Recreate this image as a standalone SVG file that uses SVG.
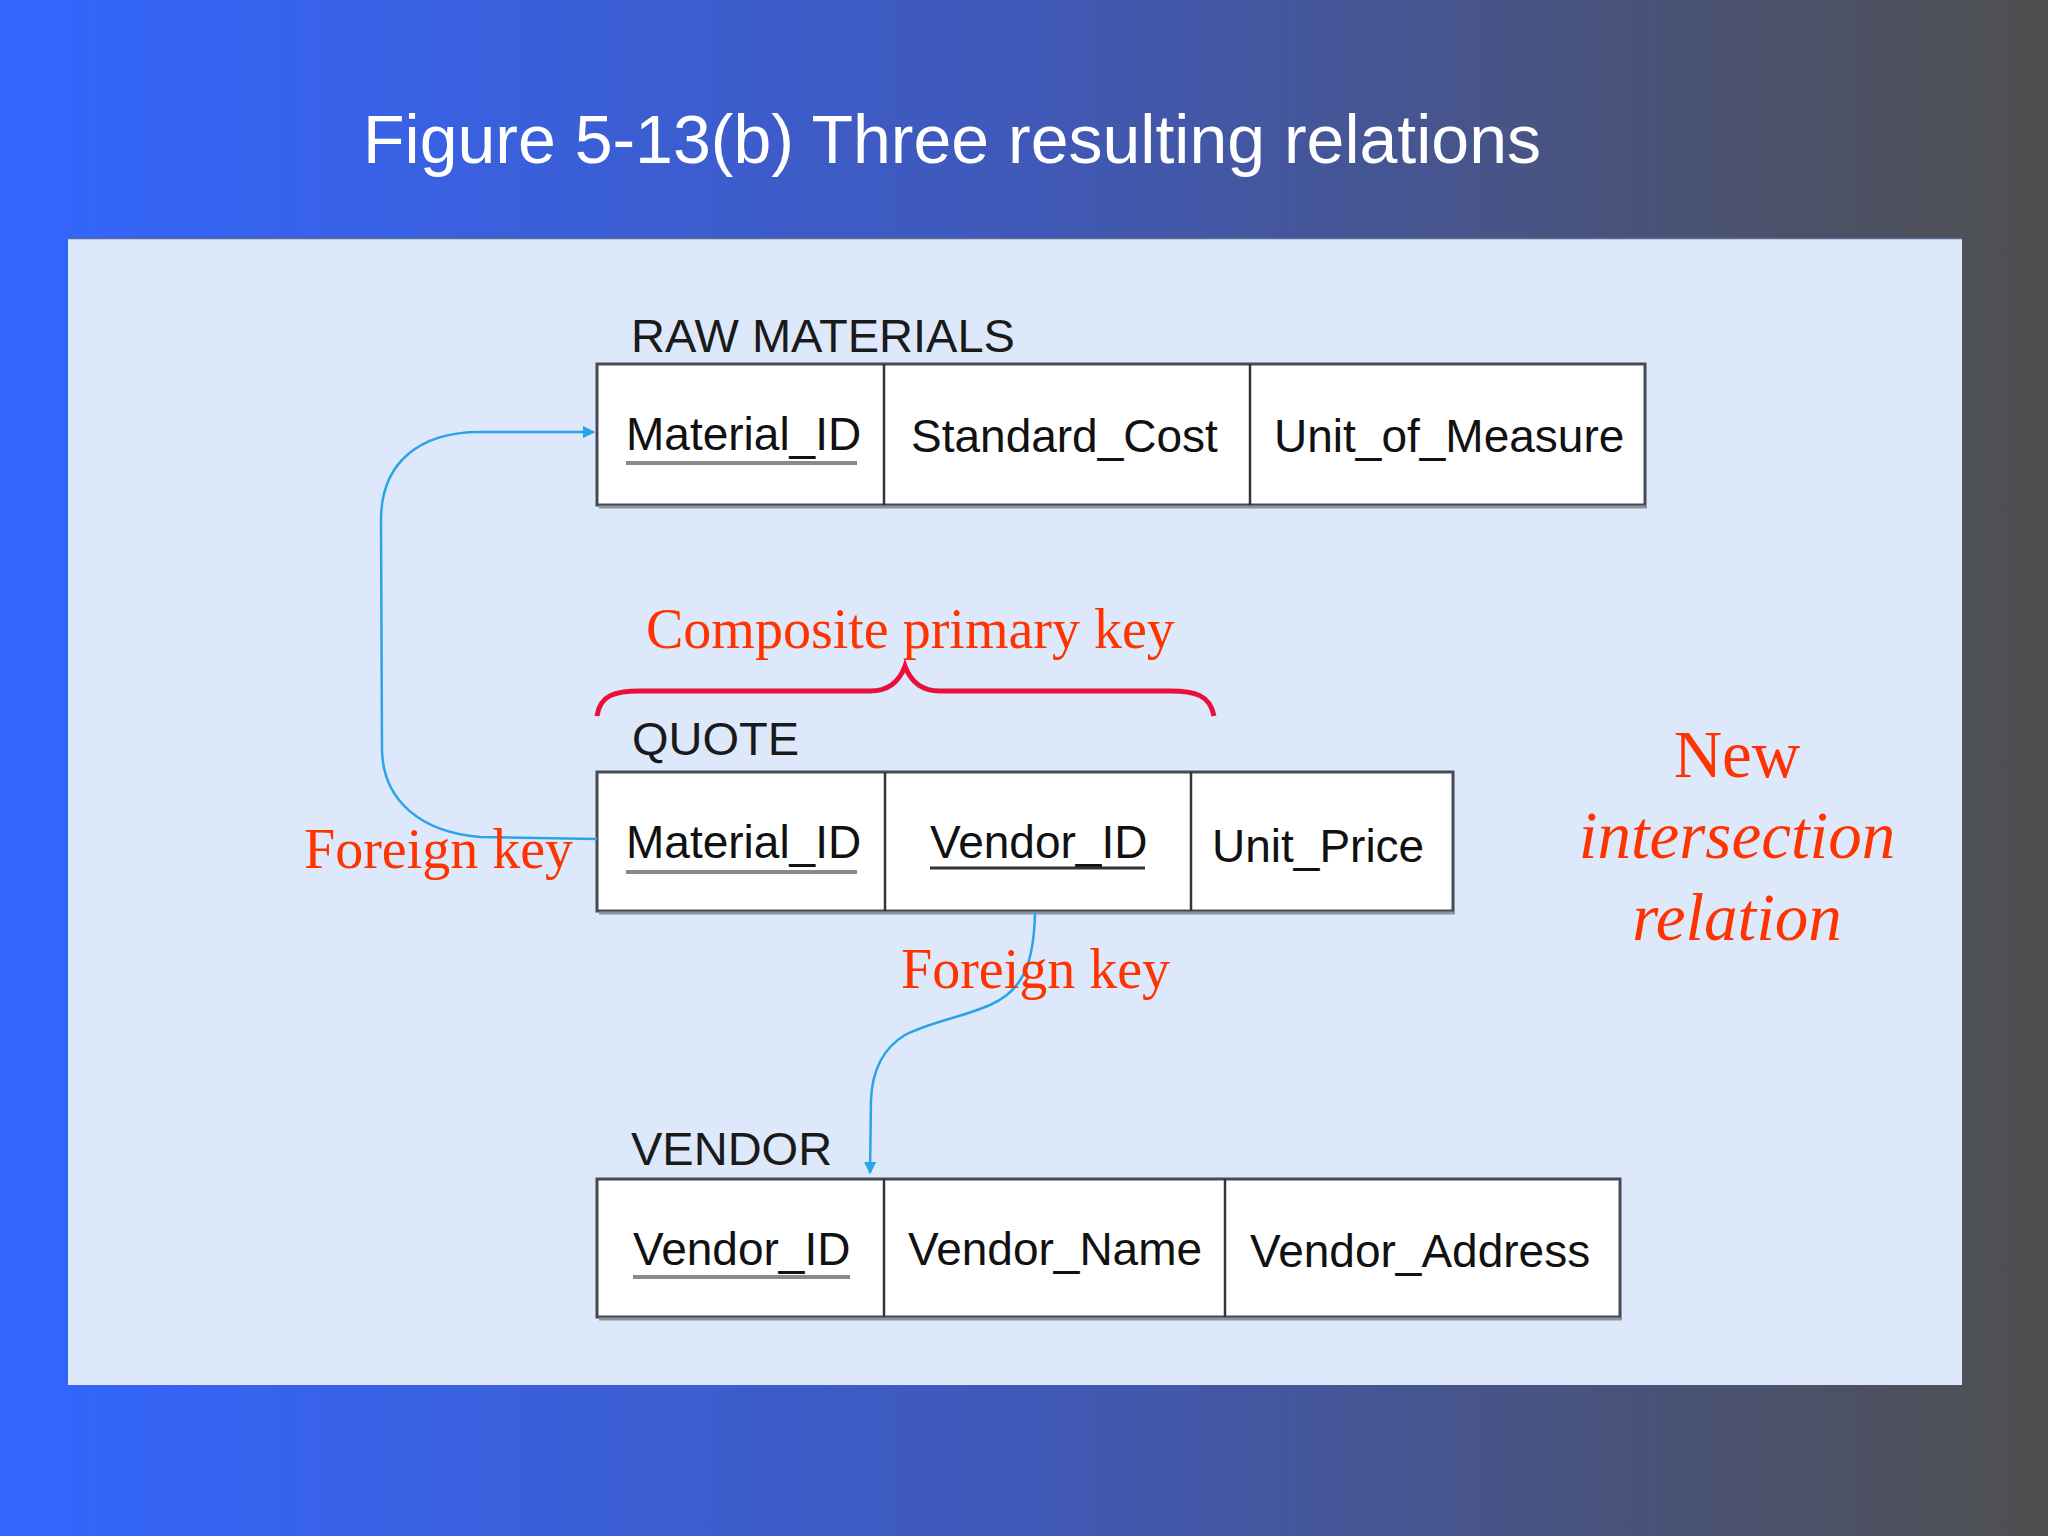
<svg xmlns="http://www.w3.org/2000/svg" width="2048" height="1536" viewBox="0 0 2048 1536">
<defs>
<linearGradient id="bg" x1="0" y1="0" x2="1" y2="0">
<stop offset="0" stop-color="#3366ff"/>
<stop offset="0.5" stop-color="#4059b8"/>
<stop offset="1" stop-color="#4f4f4f"/>
</linearGradient>
<marker id="arr" viewBox="0 0 10 10" refX="9" refY="5" markerWidth="5" markerHeight="5" orient="auto" markerUnits="strokeWidth">
<path d="M0,0 L10,5 L0,10 Z" fill="#2aa3e8"/>
</marker>
<style>
.cell{fill:#ffffff;stroke:#454b52;stroke-width:3}
.div{stroke:#30353a;stroke-width:2.5}
.shadow{stroke:#8d949c;stroke-width:3}
.t{font-family:"Liberation Sans",Arial,sans-serif;font-size:46px;fill:#111}
.lbl{font-family:"Liberation Sans",Arial,sans-serif;font-size:47px;fill:#1a1a1a}
.red{font-family:"Liberation Serif","Times New Roman",serif;fill:#ff3300}
.ul{stroke:#8a8a8a;stroke-width:4}
.uld{stroke:#333;stroke-width:3}
.fk{fill:none;stroke:#2aa3e8;stroke-width:2.5}
</style>
</defs>
<rect width="2048" height="1536" fill="url(#bg)"/>
<text x="363" y="163" font-family="Liberation Sans, Arial, sans-serif" font-size="68" fill="#ffffff">Figure 5-13(b) Three resulting relations</text>
<rect x="68" y="238" width="1894" height="1147" fill="#dde9fb"/>
<line x1="68" y1="238.5" x2="1962" y2="238.5" stroke="#5a6a90" stroke-width="1.5"/>

<g id="raw-materials">
<text class="lbl" x="631" y="352">RAW MATERIALS</text>
<rect class="cell" x="597" y="364" width="1048" height="141"/>
<line class="shadow" x1="599" y1="507" x2="1647" y2="507"/>
<line class="div" x1="884" y1="364" x2="884" y2="505"/>
<line class="div" x1="1250" y1="364" x2="1250" y2="505"/>
<text class="t" x="626" y="450">Material_ID</text>
<line class="ul" x1="626" y1="463" x2="857" y2="463"/>
<text class="t" x="911" y="452">Standard_Cost</text>
<text class="t" x="1274" y="452">Unit_of_Measure</text>
</g>

<g id="quote">
<text class="lbl" x="632" y="755">QUOTE</text>
<rect class="cell" x="597" y="772" width="856" height="139"/>
<line class="shadow" x1="599" y1="913" x2="1455" y2="913"/>
<line class="div" x1="885" y1="772" x2="885" y2="911"/>
<line class="div" x1="1191" y1="772" x2="1191" y2="911"/>
<text class="t" x="626" y="858">Material_ID</text>
<line class="ul" x1="626" y1="872" x2="857" y2="872"/>
<text class="t" x="930" y="858">Vendor_ID</text>
<line class="uld" x1="930" y1="868" x2="1145" y2="868"/>
<text class="t" x="1212" y="862">Unit_Price</text>
</g>

<g id="vendor">
<text class="lbl" x="631" y="1165">VENDOR</text>
<rect class="cell" x="597" y="1179" width="1023" height="138"/>
<line class="shadow" x1="599" y1="1319" x2="1622" y2="1319"/>
<line class="div" x1="884" y1="1179" x2="884" y2="1317"/>
<line class="div" x1="1225" y1="1179" x2="1225" y2="1317"/>
<text class="t" x="633" y="1265">Vendor_ID</text>
<line class="ul" x1="633" y1="1277" x2="850" y2="1277"/>
<text class="t" x="908" y="1265">Vendor_Name</text>
<text class="t" x="1250" y="1267">Vendor_Address</text>
</g>

<g id="connectors">
<path class="fk" d="M597,839 L480,837 C420,832 383,800 382,750 L381,520 C381,462 420,432 480,432 L594,432" marker-end="url(#arr)"/>
<path class="fk" d="M1035,912 C1034,960 1025,990 990,1005 C960,1018 930,1022 905,1035 C880,1050 872,1075 871,1100 L870,1173" marker-end="url(#arr)"/>
</g>

<g id="annotations">
<path d="M597,716 C600,695 615,691 640,691 L870,691 C890,691 900,680 905,666 C910,680 920,691 940,691 L1170,691 C1195,691 1210,695 1214,716" fill="none" stroke="#e8103a" stroke-width="5"/>
<text class="red" x="646" y="648" font-size="56">Composite primary key</text>
<text class="red" x="304" y="868" font-size="56">Foreign key</text>
<text class="red" x="901" y="988" font-size="56">Foreign key</text>
<text class="red" x="1737" y="777" font-size="67" text-anchor="middle">New</text>
<text class="red" x="1737" y="858" font-size="67" font-style="italic" text-anchor="middle">intersection</text>
<text class="red" x="1737" y="940" font-size="67" font-style="italic" text-anchor="middle">relation</text>
</g>
</svg>
